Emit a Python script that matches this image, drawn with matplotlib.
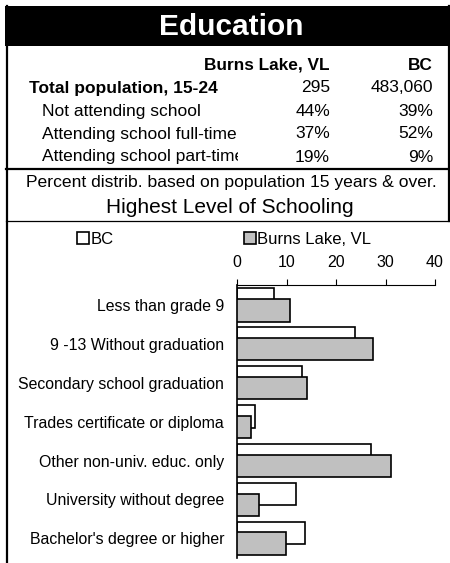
import matplotlib.pyplot as plt
from matplotlib.patches import Rectangle
from matplotlib.lines import Line2D

plt.rcParams['font.family'] = ['Liberation Sans', 'DejaVu Sans']

categories = ["Less than grade 9",
              "9 -13 Without graduation",
              "Secondary school graduation",
              "Trades certificate or diploma",
              "Other non-univ. educ. only",
              "University without degree",
              "Bachelor's degree or higher"]
bc_values = [7.5, 23.8, 13.0, 3.6, 27.0, 11.9, 13.6]
burns_values = [10.6, 27.5, 14.1, 2.8, 31.0, 4.4, 9.8]
x_ticks = [0, 10, 20, 30, 40]

table_cols = ["Burns Lake, VL", "BC"]
table_rows = ["Total population, 15-24",
              "Not attending school",
              "Attending school full-time",
              "Attending school part-time"]
table_burns = ["295", "44%", "37%", "19%"]
table_bc = ["483,060", "39%", "52%", "9%"]

W, H = 450, 563
fig = plt.figure(figsize=(4.5, 5.63), dpi=100)


def fx(px):
    return px / W


def fy(py):
    return 1 - py / H


# frame and banner
fig.patches.append(Rectangle((fx(5), fy(46)), fx(445), 40 / H, transform=fig.transFigure,
                             facecolor='black', edgecolor='none'))
fig.lines.append(Line2D([fx(6.5), fx(6.5)], [fy(6), fy(563)], transform=fig.transFigure,
                        color='black', lw=1.6))
fig.lines.append(Line2D([fx(448.5), fx(448.5)], [fy(6), fy(221)], transform=fig.transFigure,
                        color='black', lw=1.6))
fig.lines.append(Line2D([fx(6), fx(449)], [fy(169), fy(169)], transform=fig.transFigure,
                        color='black', lw=1.6))
fig.lines.append(Line2D([fx(6), fx(449)], [fy(221), fy(221)], transform=fig.transFigure,
                        color='black', lw=0.9))

fig.text(fx(231), fy(27), "Education", color='white', fontsize=21.5, fontweight='bold',
         ha='center', va='center')

# table
fig.text(fx(330), fy(65), table_cols[0], fontsize=12.4, fontweight='bold', ha='right', va='center')
fig.text(fx(433), fy(65), table_cols[1], fontsize=12.4, fontweight='bold', ha='right', va='center')
row_y = [88, 111, 134, 157]
for i, (name, b, c) in enumerate(zip(table_rows, table_burns, table_bc)):
    if i == 0:
        fig.text(fx(29), fy(row_y[i]), name, fontsize=12.5, fontweight='bold', ha='left', va='center')
    else:
        fig.text(fx(42), fy(row_y[i]), name, fontsize=12.5, ha='left', va='center')
    fig.text(fx(330), fy(row_y[i]), b, fontsize=12.5, ha='right', va='center')
    fig.text(fx(433), fy(row_y[i]), c, fontsize=12.5, ha='right', va='center')

# the last row label is cut off by its cell in the original
fig.patches.append(Rectangle((fx(238), fy(166)), fx(50), 18 / H, transform=fig.transFigure,
                             facecolor='white', edgecolor='none', zorder=5))

fig.text(fx(231), fy(182), "Percent distrib. based on population 15 years & over.",
         fontsize=12.6, ha='center', va='center')
fig.text(fx(230), fy(208), "Highest Level of Schooling", fontsize=15, ha='center', va='center')

# bar chart
ax = fig.add_axes([fx(237.3), fy(558), fx(435 - 237.3), 273 / H])
pos = list(range(len(categories)))
h = 0.58
off = 0.1375
ax.barh([p - off for p in pos], bc_values, height=h, color='white', edgecolor='black',
        linewidth=1.2, label='BC', zorder=2)
ax.barh([p + off for p in pos], burns_values, height=h, color='#c0c0c0', edgecolor='black',
        linewidth=1.2, label='Burns Lake, VL', zorder=3)
ax.set_xlim(0, 40)
ax.set_ylim(6.505, -0.5125)
ax.set_yticks(pos)
ax.set_yticklabels(categories, fontsize=11.4)
ax.tick_params(axis='y', length=0, pad=9.5)
ax.xaxis.tick_top()
ax.set_xticks(x_ticks)
ax.tick_params(axis='x', direction='out', length=4, width=0.8, labelsize=11.5, pad=7)
ax.spines['right'].set_visible(False)
ax.spines['bottom'].set_visible(False)
ax.spines['top'].set_linewidth(0.8)
ax.spines['left'].set_linewidth(1.2)

handles, labels = ax.get_legend_handles_labels()
fig.legend([handles[0]], [labels[0]], loc='center left', bbox_to_anchor=(fx(62), fy(239)),
           frameon=False, fontsize=12, handlelength=0.7, handleheight=0.7, handletextpad=0.1)
fig.legend([handles[1]], [labels[1]], loc='center left', bbox_to_anchor=(fx(229), fy(239)),
           frameon=False, fontsize=12, handlelength=0.7, handleheight=0.7, handletextpad=0.1)

fig.savefig("out.png", dpi=100)
